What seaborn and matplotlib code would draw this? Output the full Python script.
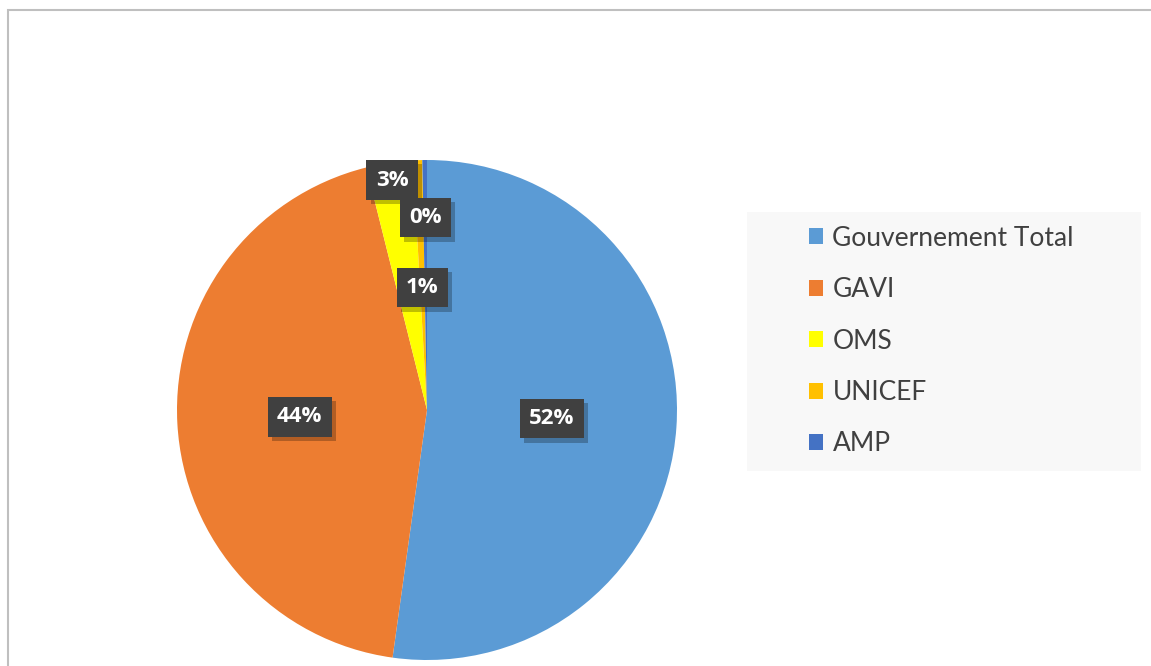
import numpy as np
import matplotlib
matplotlib.use("Agg")
import matplotlib.pyplot as plt
import matplotlib.patheffects as pe
from matplotlib.patches import Rectangle
import seaborn as sns

categories = ["Gouvernement Total", "GAVI", "OMS", "UNICEF", "AMP"]
values = [52.2, 43.9, 3.0, 0.6, 0.3]
colors = ["#5B9BD5", "#ED7D31", "#FFFF00", "#FFC000", "#4472C4"]
label_radius = [0.50, 0.51, 0.93, 0.49, 0.77]

sns.set_theme(style="white")
plt.rcParams["font.family"] = ["Lato", "DejaVu Sans"]

W, H = 1151, 666
fig = plt.figure(figsize=(W / 100, H / 100), dpi=100)
fig.patch.set_facecolor("white")

# outer chart frame (only left & top visible)
fig.add_artist(Rectangle((8 / W, -0.1), 1.2, (H - 10) / H + 0.1, transform=fig.transFigure,
                         fill=False, edgecolor="#BFBFBF", linewidth=1.5))

cx, cy, r = 427, 410, 250
ax = fig.add_axes([(cx - r) / W, (H - cy - r) / H, 2 * r / W, 2 * r / H])
wedges, _ = ax.pie(values, colors=colors, startangle=90, counterclock=False,
                   wedgeprops=dict(linewidth=0))
ax.set_xlim(-1, 1)
ax.set_ylim(-1, 1)
ax.set_aspect("equal")
ax.axis("off")

total = sum(values)
pcts = [v / total * 100 for v in values]
for w, p, rd in zip(wedges, pcts, label_radius):
    ang = np.deg2rad((w.theta1 + w.theta2) / 2)
    x, y = rd * np.cos(ang), rd * np.sin(ang)
    t = ax.text(x, y, f"{p:.0f}%", ha="center", va="center", fontsize=16, fontweight="bold",
                color="white", family=["Open Sans", "DejaVu Sans"],
                bbox=dict(boxstyle="square,pad=0.42", facecolor="#404040", edgecolor="none"),
                zorder=5)
    t.get_bbox_patch().set_path_effects(
        [pe.SimplePatchShadow(offset=(3, -3), shadow_rgbFace="black", alpha=0.25), pe.Normal()])

# legend panel
fig.add_artist(Rectangle((747 / W, (H - 471) / H), (1141 - 747) / W, (471 - 212) / H,
                         transform=fig.transFigure, facecolor="#F8F8F8", edgecolor="none"))
leg = fig.legend(wedges, categories, loc="upper left",
                 bbox_to_anchor=(785 / W, (H - 202) / H), frameon=False,
                 fontsize=19, handlelength=0.55, handleheight=0.55, handletextpad=0.35,
                 labelspacing=1.0, labelcolor="#404040")

fig.savefig("out.png", dpi=100)
